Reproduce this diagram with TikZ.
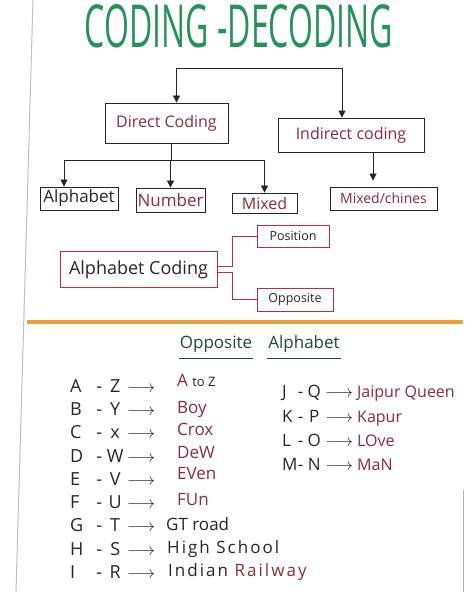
\documentclass[tikz,border=0pt]{standalone}
\usepackage{graphicx}
\usepackage{xcolor}
\usepackage{fontspec}
\setmainfont{Open Sans}
\usepackage{tikz}
\usetikzlibrary{arrows.meta,positioning}
\definecolor{cdgreen}{HTML}{23935A}
\definecolor{cdhead}{HTML}{1F4A3A}
\definecolor{cdmaroon}{HTML}{8E2A3A}
\definecolor{cdred}{HTML}{C42B3B}
\definecolor{cdorange}{HTML}{E9A23B}
\definecolor{cdink}{HTML}{262626}
\newcommand{\lpair}[2]{\makebox[20pt][l]{#1}\makebox[18pt][c]{-}\makebox[14pt][c]{#2}\hspace{5pt}$\longrightarrow$}
\newcommand{\rpair}[2]{\makebox[12pt][l]{#1}\makebox[13pt][c]{-}\makebox[14pt][c]{#2}\hspace{4pt}$\longrightarrow$}
\newcommand{\wide}{\addfontfeature{LetterSpace=12}}
\tikzset{
  ttl/.style={text=cdgreen, inner sep=0pt},
  cbox/.style={draw=cdink, line width=0.8pt, inner sep=0pt, text=cdmaroon,
    font=\fontsize{16}{19}\selectfont},
  rbox/.style={draw=cdred, line width=1pt, inner sep=0pt, text=cdink},
  flow/.style={-{Triangle[length=7pt,width=7pt]}, line width=0.7pt, draw=cdink},
  link/.style={draw=cdink, line width=0.7pt},
  rlink/.style={draw=cdred, line width=1pt},
  hd/.style={text=cdhead, font=\fontsize{17}{20}\selectfont, inner sep=1pt},
  pr/.style={anchor=base west, inner sep=0pt, text=cdink, font=\fontsize{18}{21}\selectfont},
  wd/.style={anchor=base west, inner sep=0pt, text=cdmaroon, font=\fontsize{17}{20}\selectfont},
}
\begin{document}
\begin{tikzpicture}[x=1pt,y=-1pt]
\useasboundingbox (0,0) rectangle (474,592);
% page edges
\draw[black!25, line width=1pt] (33,0) -- (16,592);
\draw[black!30, line width=1pt] (463,490) -- (463,592);

\node[ttl] (ttl) at (239,26) {\resizebox{308pt}{43pt}{CODING -DECODING}};

% tree
\node[cbox, minimum width=123pt, minimum height=40pt] (dc) at (166.5,123) {Direct Coding};
\node[cbox, minimum width=146pt, minimum height=34pt] (ic) at (351,135) {Indirect coding};
\node[cbox, text=cdink, font=\fontsize{17}{20}\selectfont, minimum width=78pt, minimum height=23pt] (al) at (79,198.5) {Alphabet};
\node[cbox, font=\fontsize{17}{20}\selectfont, minimum width=69pt, minimum height=24pt] (nu) at (170.5,200) {Number};
\node[cbox, minimum width=65pt, minimum height=20pt] (mx) at (264.5,203) {Mixed};
\node[cbox, font=\fontsize{14}{17}\selectfont, minimum width=107pt, minimum height=23pt] (mc) at (383.5,198.5) {Mixed/chines};

\coordinate (split) at (260,68);
\coordinate (dj) at (171.5,160);
\draw[flow] (split) -| ([xshift=10pt]dc.north);
\draw[flow] (split) -| ([xshift=-9pt]ic.north);
\draw[link] ([xshift=5pt]dc.south) -- (dj);
\draw[flow] (dj) -| ([xshift=-15pt]al.north);
\draw[flow] (dj) -| (nu.north);
\draw[flow] (dj) -| (mx.north);
\draw[flow, shorten >=6pt] ([xshift=22pt]ic.south) -- ([xshift=22pt]ic.south |- mc.north);

% alphabet coding
\node[rbox, font=\fontsize{18}{22}\selectfont, minimum width=157pt, minimum height=36pt] (ac) at (138.5,269.5) {Alphabet Coding};
\node[rbox, font=\fontsize{12.5}{15}\selectfont, minimum width=72pt, minimum height=22pt] (po) at (293,236) {Position};
\node[rbox, font=\fontsize{12.5}{15}\selectfont, minimum width=76pt, minimum height=23pt] (op) at (295,299.5) {Opposite};
\coordinate (ab) at (232,269);
\draw[rlink] ([yshift=3pt]ac.east) -| (ab |- po.west) -- (po.west);
\draw[rlink] ([yshift=-3pt]ac.east) -| (ab |- op.west) -- (op.west);

\draw[cdorange, line width=3.5pt] (27,322) -- (463,322);

% opposite alphabet
\node[hd, anchor=base] (hop) at (216,348) {Opposite};
\node[hd, anchor=base] (hal) at (304,348) {Alphabet};
\draw[cdhead, line width=1pt] ([yshift=-5pt]hop.south west) -- ([yshift=-5pt]hop.south east);
\draw[cdhead, line width=1pt] ([yshift=-5pt]hal.south west) -- ([yshift=-5pt]hal.south east);

\foreach \l/\r/\w/\yl/\yw/\xw [count=\i] in {
  A/Z/{A {\color{cdink}\fontsize{13}{15}\selectfont to Z}}/392/386/177,
  B/Y/Boy/415/413/177,
  C/x/Crox/438/435/177,
  D/W/DeW/462/458/177,
  E/V/EVen/485/479/177,
  F/U/FUn/508/505/177,
  G/T/{\color{cdink}GT road}/531/530/166,
  H/S/{\color{cdink}\wide High School}/555/553/167,
  I/R/{\color{cdink}\wide Indian \textcolor{cdmaroon}{Railway}}/578/576/168}
{
  \node[pr] (p\i) at (70,\yl) {\lpair{\l}{\r}};
  \node[wd] (w\i) at (\xw,\yw) {\w};
}
\foreach \l/\r/\w/\y [count=\i] in {J/Q/{Jaipur Queen}/397, K/P/Kapur/422, L/O/LOve/446, M/N/MaN/470}
{
  \node[pr, font=\fontsize{17}{20}\selectfont] (q\i) at (282,\y) {\rpair{\l}{\r}};
  \node[wd, font=\fontsize{16}{19}\selectfont] (v\i) at (357,\y) {\w};
}
\end{tikzpicture}
\end{document}
